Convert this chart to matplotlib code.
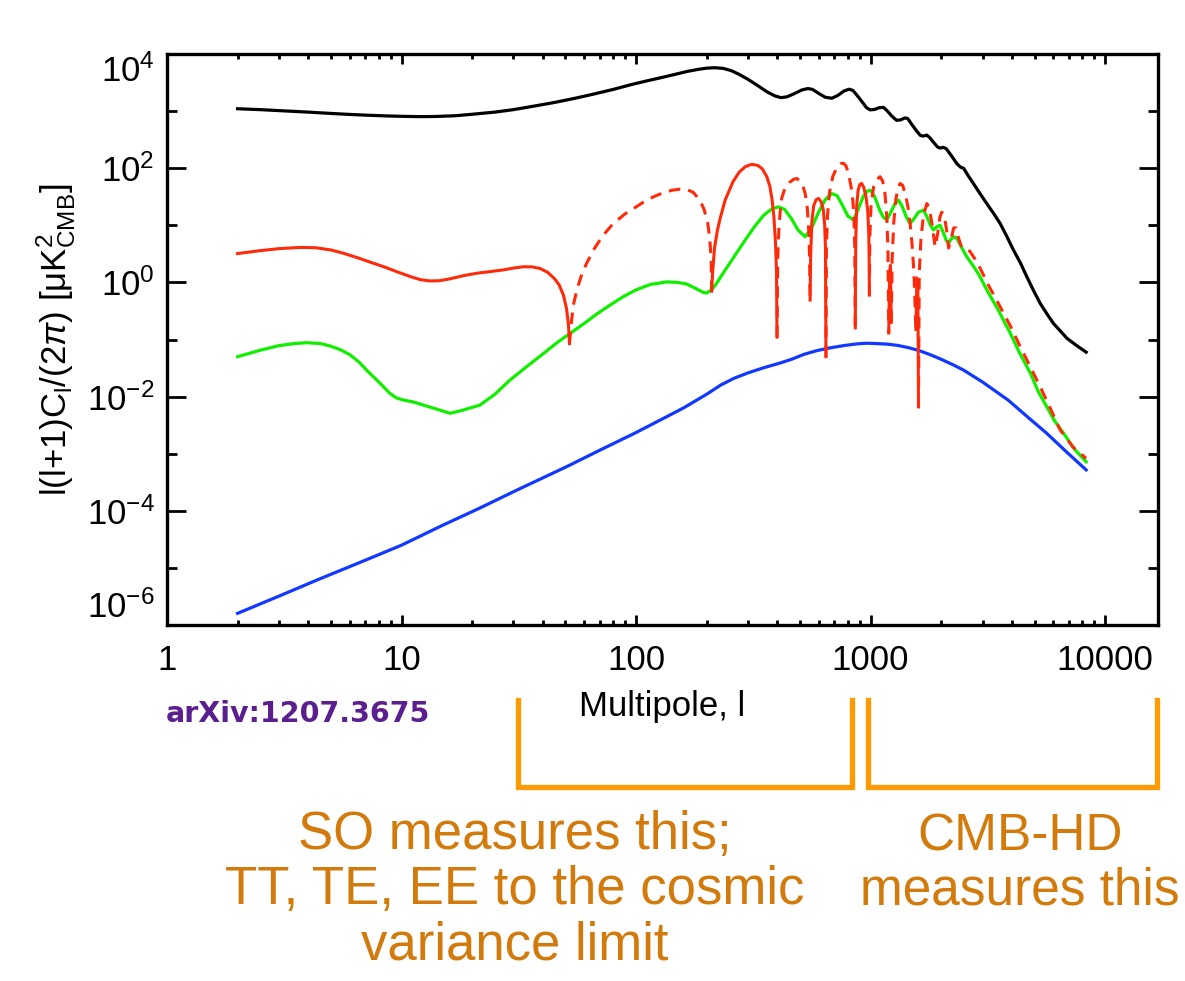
import numpy as np
import matplotlib
matplotlib.use('Agg')
import matplotlib.pyplot as plt
from matplotlib.ticker import FixedLocator, LogLocator, NullFormatter
from matplotlib.lines import Line2D

plt.rcParams['font.family'] = ['Liberation Sans', 'DejaVu Sans']
plt.rcParams['mathtext.fontset'] = 'custom'
plt.rcParams['mathtext.rm'] = 'Liberation Sans'
plt.rcParams['mathtext.it'] = 'Liberation Sans:italic'
plt.rcParams['mathtext.bf'] = 'Liberation Sans:bold'

# temperature power spectrum
tt_l = [2, 2.5, 3, 4, 5, 6, 7, 8.5, 10, 12, 14, 17, 20, 25, 30, 37, 45, 55, 65, 80,
        95, 110, 126, 145, 165, 185, 200, 217, 235, 255, 275, 300, 330, 360, 390,
        415, 440, 470, 510, 540, 565, 600, 640, 683, 720, 770, 810, 840, 870, 920,
        960, 995, 1040, 1090, 1135, 1180, 1230, 1290, 1340, 1400, 1440, 1500, 1570,
        1630, 1680, 1737, 1790, 1860, 1930, 1980, 2040, 2100, 2200, 2333, 2420,
        2490, 2600, 2743, 2900, 3128, 3350, 3565, 3800, 4063, 4350, 4634, 4950,
        5282, 5650, 6025, 6450, 6870, 7500, 8300]
tt_v = [1100, 1060, 1020, 960, 910, 875, 850, 825, 810, 800, 805, 830, 880, 960,
        1060, 1230, 1420, 1680, 1960, 2400, 2900, 3350, 3800, 4350, 4950, 5400,
        5650, 5750, 5600, 5100, 4400, 3600, 2800, 2200, 1850, 1720, 1780, 2000,
        2350, 2480, 2400, 2050, 1750, 1680, 1850, 2250, 2420, 2300, 1950, 1450,
        1150, 1050, 1070, 1150, 1160, 1000, 820, 690, 700, 760, 740, 580, 450,
        375, 365, 380, 340, 280, 235, 225, 232, 220, 170, 120, 104, 100, 75, 54,
        38, 24, 16, 10.8, 6.5, 3.7, 2.2, 1.26, 0.72, 0.43, 0.28, 0.19, 0.14,
        0.105, 0.08, 0.06]

# TE cross spectrum (signed: solid where positive, dashed where negative)
te_l = [2, 2.5, 3, 3.7, 4.3, 5, 5.65, 6.5, 7.5, 8.5, 9.5, 11, 12, 13.2, 14.5, 16,
        18.5, 21, 24, 27, 30, 33, 36, 39, 42, 45, 47, 49, 50.5, 51.5, 52,
        53, 54, 56, 58, 61, 65.8, 72, 80, 90, 100, 110, 119, 130, 142, 154, 165,
        175, 187, 195, 202, 206, 209, 210,
        212, 216, 222, 228, 240, 259, 275, 292, 311, 330, 345, 361, 372, 380, 387,
        393, 397, 399,
        402, 407, 413, 418, 430, 450, 470, 484, 500, 515, 527, 537, 545, 549, 552,
        555, 562, 572, 585, 599, 615, 628, 637, 642, 645,
        648, 655, 668, 690, 720, 745, 766, 785, 805, 825, 840, 850, 856, 860,
        864, 872, 885, 900, 916, 935, 955, 972, 982, 986, 988,
        992, 1005, 1030, 1060, 1097, 1125, 1150, 1172, 1185, 1195,
        1205, 1215, 1225,
        1235, 1255, 1280, 1310, 1336, 1370, 1410, 1445, 1473, 1500, 1530, 1560,
        1575, 1590, 1600,
        1612, 1640, 1680, 1737, 1780, 1830, 1884, 1930, 1975, 2010, 2060, 2110,
        2150, 2200, 2260, 2310, 2370, 2450, 2550, 2650, 2780, 2930, 3200, 3565,
        3950, 4343, 4800, 5282, 5850, 6430, 7300, 8300]
te_v = [3.2, 3.6, 3.9, 4.1, 4.05, 3.7, 3.24, 2.7, 2.2, 1.85, 1.55, 1.25, 1.12, 1.06,
        1.07, 1.15, 1.32, 1.45, 1.55, 1.65, 1.78, 1.88, 1.87, 1.75, 1.5, 1.15,
        0.9, 0.6, 0.35, 0.18, 0.085,
        -0.2, -0.4, -0.75, -1.2, -2.0, -3.7, -6.5, -10.8, -16, -21, -27, -31.7,
        -37, -41, -43, -42, -38, -27.6, -19, -11, -6, -2.5, -0.7,
        1.5, 4, 8, 13, 28, 58, 85, 106, 117, 112, 98, 71, 48, 28, 14, 5, 1.5, 0.11,
        -3, -10, -20, -30, -43, -56, -64, -66, -60, -48, -35, -20, -8, -3, -0.49,
        3, 12, 22, 28, 29.6, 26, 19, 10, 4, 0.05,
        -4, -15, -38, -72, -105, -120, -122, -110, -80, -48, -27, -12, -4, -0.16,
        5, 22, 42, 52, 54, 46, 32, 18, 7, 2.5, 0.6,
        -6, -24, -47, -63, -71, -60, -38, -14, -4, -0.13,
        1.5, 2.0, 0.2,
        -2.5, -11, -28, -46, -54, -50, -34, -20, -11, -5, -1.5, -0.15,
        1.2, 1.0, 0.0066,
        -1.5, -6, -15, -24, -20, -10, -4.2, -7, -14, -17, -15, -8, -4, -5.5, -9,
        -9, -6, -4, -3.8, -3.5, -2.6, -1.77, -0.85, -0.376, -0.17, -0.075, -0.033,
        -0.0149, -0.0061, -0.0026, -0.0013, -0.00083]

# E-mode polarisation
ee_l = [2, 2.5, 3, 3.5, 3.94, 4.5, 4.96, 5.5, 6.03, 6.6, 7.1, 8, 8.9, 9.5, 10.2,
        11.3, 12.4, 14, 16.1, 18, 21.6, 25, 29, 34, 40.3, 46, 52.3, 60, 68, 77.4,
        88, 100, 115, 135, 150, 164, 180, 193, 200, 210, 220, 235, 260, 290, 320,
        350, 380, 405, 430, 460, 490, 525, 560, 600, 640, 683, 720, 760, 800, 845,
        880, 930, 970, 1000, 1040, 1090, 1130, 1172, 1220, 1270, 1315, 1360, 1420,
        1473, 1520, 1600, 1680, 1740, 1800, 1853, 1920, 1978, 2040, 2100, 2147,
        2200, 2260, 2333, 2450, 2573, 2750, 2900, 3128, 3350, 3500, 3700, 3936,
        4300, 4790, 5200, 5640, 6100, 6640, 7400, 8300]
ee_v = [0.05, 0.065, 0.078, 0.085, 0.088, 0.085, 0.077, 0.066, 0.054, 0.04, 0.029,
        0.018, 0.0115, 0.0095, 0.0087, 0.008, 0.0071, 0.0061, 0.0051, 0.0057,
        0.0071, 0.011, 0.0195, 0.033, 0.057, 0.088, 0.128, 0.19, 0.28, 0.40, 0.56,
        0.74, 0.92, 1.02, 1.0, 0.94, 0.78, 0.67, 0.65, 0.75, 0.95, 1.45, 2.7, 5.3,
        9.5, 15, 19.5, 21, 19, 13, 8.3, 6.3, 9, 17, 28, 36, 33, 22, 14.5, 12.4,
        18, 32, 40, 41, 32, 19, 14, 12.4, 17, 24, 27.6, 22, 14, 10.8, 12.5, 17,
        18.5, 14, 10, 8.3, 9.5, 10, 7.5, 5.5, 4.8, 5.7, 6.3, 5.9, 4, 2.8, 1.9,
        1.35, 0.74, 0.45, 0.33, 0.21, 0.13, 0.06, 0.026, 0.012, 0.0066, 0.0037,
        0.0023, 0.0012, 7.2e-4]

# B-mode polarisation
bb_l = [2, 3, 4.47, 6.5, 10, 15, 21.4, 31, 51.3, 70, 99, 130, 159, 200, 230, 262,
        300, 350, 405, 460, 520, 591, 680, 780, 880, 960, 1050, 1175, 1300, 1450,
        1610, 1800, 2000, 2250, 2495, 3000, 3856, 4700, 5620, 6800, 8300]
bb_v = [1.6e-6, 3.2e-6, 6.4e-6, 1.2e-5, 2.5e-5, 5.6e-5, 1.1e-4, 2.3e-4, 6.1e-4,
        1.15e-3, 2.3e-3, 4.1e-3, 6.3e-3, 0.011, 0.016, 0.021, 0.026, 0.032, 0.038,
        0.045, 0.055, 0.064, 0.072, 0.079, 0.084, 0.086, 0.085, 0.083, 0.079,
        0.072, 0.064, 0.054, 0.045, 0.036, 0.029, 0.018, 0.0087, 0.0043, 0.0023,
        1.1e-3, 5.2e-4]

W, H = 1185, 981
fig = plt.figure(figsize=(W / 100, H / 100), dpi=100)
ax = fig.add_axes([167 / W, 1 - 625 / H, (1158 - 167) / W, (625 - 54) / H])

ax.plot(tt_l, tt_v, color='black', lw=2.3)
ax.plot(ee_l, ee_v, color='#11ee00', lw=2.3)
ax.plot(bb_l, bb_v, color='#1038ff', lw=2.3)

# split TE into runs of constant sign, each run joined to the previous one
te_l = np.array(te_l)
te_v = np.array(te_v)
sgn = np.sign(te_v)
start = 0
for i in range(1, len(te_v) + 1):
    if i == len(te_v) or sgn[i] != sgn[start]:
        j0 = max(start - 1, 0)
        ls = '-' if sgn[start] > 0 else (0, (3.8, 2.6))
        ax.plot(te_l[j0:i], np.abs(te_v[j0:i]), color='#ff2a0a', lw=2.2, ls=ls)
        start = i

ax.set_xscale('log')
ax.set_yscale('log')
ax.set_xlim(1, 16800)
ax.set_ylim(1e-6, 1e4)

ax.set_xticks([1, 10, 100, 1000, 10000], ['1', '10', '100', '1000', '10000'])
ax.xaxis.set_minor_locator(LogLocator(base=10, subs=np.arange(2, 10)))
ax.xaxis.set_minor_formatter(NullFormatter())

yt = [1e-6, 1e-4, 1e-2, 1e0, 1e2, 1e4]
ax.set_yticks(yt, [r'$\mathregular{10^{%d}}$' % e for e in (-6, -4, -2, 0, 2, 4)])
ax.yaxis.set_minor_locator(FixedLocator([1e-5, 1e-3, 1e-1, 1e1, 1e3]))
ax.yaxis.set_minor_formatter(NullFormatter())

ax.tick_params(which='both', direction='in', top=True, right=True, width=2,
               labelsize=25, color='black')
ax.tick_params(axis='x', which='major', length=7, pad=14)
ax.tick_params(axis='x', which='minor', length=3.5)
ax.tick_params(axis='y', which='major', length=14, pad=9)
ax.tick_params(axis='y', which='minor', length=7)
for s in ax.spines.values():
    s.set_linewidth(2.4)

yticks = ax.yaxis.get_major_ticks()
yticks[0].label1.set_va('bottom')
yticks[-1].label1.set_va('top')

ax.set_xlabel('Multipole, l', fontsize=25, labelpad=9)
ax.set_ylabel(r'l(l+1)C$_\mathregular{l}$/(2$\pi$) [μK$^\mathregular{2}_\mathregular{CMB}$]',
              fontsize=25, labelpad=6)

fig.text(166 / W, 1 - 714 / H, 'arXiv:1207.3675', color='#5a1e8e', fontsize=20.5,
         fontweight='bold', family='DejaVu Sans', ha='left', va='center')

# brackets marking the multipole ranges
orange = '#ff9a00'
for x0, x1 in [(518, 852), (868, 1157)]:
    fig.add_artist(Line2D([x0 / W, x0 / W, x1 / W, x1 / W],
                          [1 - 700 / H, 1 - 787 / H, 1 - 787 / H, 1 - 700 / H],
                          transform=fig.transFigure, color=orange, lw=3.8,
                          solid_joinstyle='miter'))

txt_color = '#d27a0c'
fig.text(515 / W, 1 - 890 / H, 'SO measures this;\nTT, TE, EE to the cosmic\nvariance limit',
         color=txt_color, fontsize=38, ha='center', va='center', linespacing=1.14)
fig.text(1020 / W, 1 - 864 / H, 'CMB-HD\nmeasures this',
         color=txt_color, fontsize=37, ha='center', va='center', linespacing=1.14)

fig.savefig('out.png', dpi=100)
